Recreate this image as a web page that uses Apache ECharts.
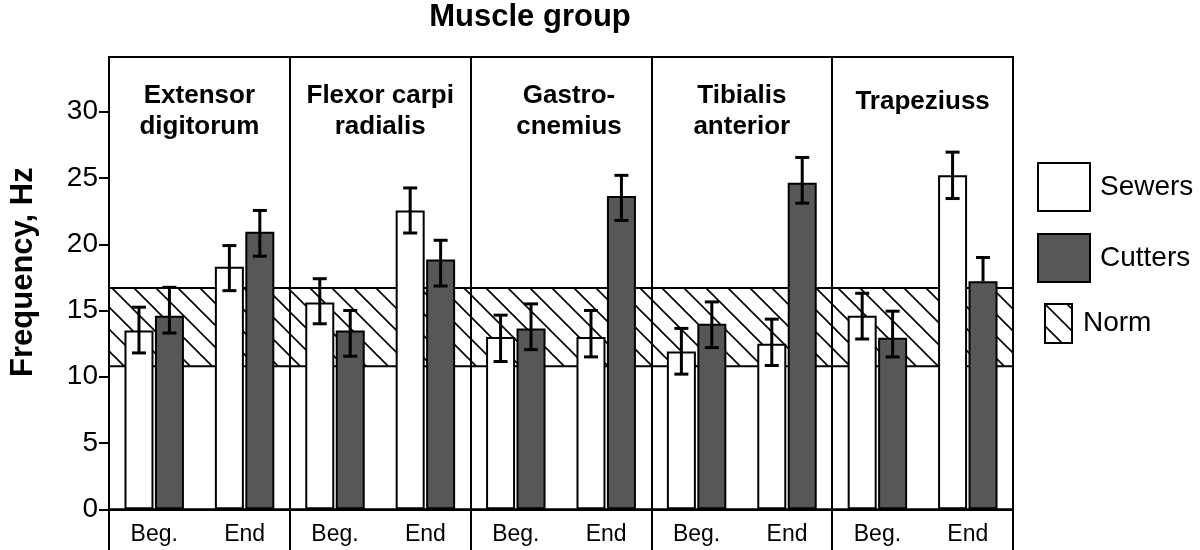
<!DOCTYPE html>
<html><head><meta charset="utf-8">
<script src="https://cdn.jsdelivr.net/npm/echarts@6/dist/echarts.min.js"></script>
<style>html,body{margin:0;padding:0;background:#fff}#c{width:1200px;height:550px}</style>
</head><body><div id="c"></div>
<script>
// ---- data ----
const muscles = ['Extensor\ndigitorum', 'Flexor carpi\nradialis', 'Gastro-\ncnemius', 'Tibialis\nanterior', 'Trapeziuss'];
const phases = ['Beg.', 'End'];
const categories = ['Beg.', 'End', 'Beg.', 'End', 'Beg.', 'End', 'Beg.', 'End', 'Beg.', 'End'];
const sewers      = [13.5, 18.3, 15.6, 22.55, 13.0, 13.0, 11.9, 12.5, 14.6, 25.2];
const sewersLow   = [11.8, 16.5, 14.0, 20.85, 11.15, 11.5, 10.2, 10.85, 12.85, 23.45];
const sewersHigh  = [15.25, 19.9, 17.4, 24.25, 14.65, 15.0, 13.65, 14.35, 16.3, 26.95];
const cutters     = [14.6, 20.95, 13.5, 18.85, 13.65, 23.65, 14.0, 24.65, 12.95, 17.2];
const cuttersLow  = [13.3, 19.1, 11.55, 16.85, 12.05, 21.8, 12.2, 23.1, 11.5, null];
const cuttersHigh = [16.75, 22.55, 15.0, 20.3, 15.5, 25.2, 15.65, 26.55, 14.95, 19.0];
const normRange = [10.8, 16.7];
const yTicks = [0, 5, 10, 15, 20, 25, 30];

// ---- styles ----
const FONT = '"Liberation Sans", Arial, Helvetica, sans-serif';
const DARK = '#575757';
const BAR_W = 29, BAR_GAP = 0.05;
const BLACK_LINE = { color: '#000', width: 2 };

function hatchCanvas() {
  const s = 22;
  const c = document.createElement('canvas');
  c.width = s; c.height = s;
  const g = c.getContext('2d');
  g.strokeStyle = '#000';
  g.lineWidth = 1.6;
  for (const k of [-s, 0, s]) {
    g.beginPath();
    g.moveTo(-2, -2 + k);
    g.lineTo(s + 2, s + 2 + k);
    g.stroke();
  }
  return c;
}
const hatchFill = { image: hatchCanvas(), repeat: 'repeat' };

function errData(vals, lows, highs) {
  return vals.map((v, i) => [i, lows[i] == null ? v : lows[i], highs[i], lows[i] == null ? 0 : 1]);
}
function errRender(sign) {
  return function (params, api) {
    const i = api.value(0);
    const lo = api.value(1), hi = api.value(2), hasLo = api.value(3);
    const pHi = api.coord([i, hi]);
    const pLo = api.coord([i, lo]);
    const cx = pHi[0] + sign * BAR_W * (1 + BAR_GAP) / 2;
    const cap = 7;
    const st = { stroke: '#000', lineWidth: 3 };
    const ch = [
      { type: 'line', shape: { x1: cx, y1: pHi[1], x2: cx, y2: pLo[1] }, style: st },
      { type: 'line', shape: { x1: cx - cap, y1: pHi[1], x2: cx + cap, y2: pHi[1] }, style: st }
    ];
    if (hasLo) ch.push({ type: 'line', shape: { x1: cx - cap, y1: pLo[1], x2: cx + cap, y2: pLo[1] }, style: st });
    return { type: 'group', children: ch };
  };
}

const topLabels = muscles.map((m, i) => {
  if (m === 'Trapeziuss') return { value: m, textStyle: { padding: [6, 0, 0, 0] } };
  if (i === 2) return { value: m, textStyle: { padding: [0, 0, 0, 16] } };
  return m;
});

const chart = echarts.init(document.getElementById('c'), null, { renderer: 'canvas' });
chart.setOption({
  animation: false,
  backgroundColor: '#fff',
  textStyle: { fontFamily: FONT, color: '#000' },
  title: {
    text: 'Muscle group', left: 530, top: 2, textAlign: 'center', padding: 0,
    textStyle: { fontSize: 31, fontWeight: 'bold', color: '#000', fontFamily: FONT }
  },
  legend: [
    { data: ['Sewers'], left: 1037, top: 162, itemWidth: 52, itemHeight: 48, icon: 'rect', padding: 0,
      itemStyle: { borderColor: '#000', borderWidth: 2 },
      textStyle: { fontSize: 28, color: '#000', fontFamily: FONT, padding: [0, 0, 0, 5] } },
    { data: ['Cutters'], left: 1037, top: 233, itemWidth: 52, itemHeight: 48, icon: 'rect', padding: 0,
      itemStyle: { borderColor: '#000', borderWidth: 2 },
      textStyle: { fontSize: 28, color: '#000', fontFamily: FONT, padding: [0, 0, 0, 5] } },
    { data: ['Norm'], left: 1044, top: 303, itemWidth: 27, itemHeight: 39, icon: 'rect', padding: 0,
      itemStyle: { color: hatchFill, borderColor: '#000', borderWidth: 2 },
      textStyle: { fontSize: 28, color: '#000', fontFamily: FONT, padding: [0, 0, 0, 6] } }
  ],
  grid: [
    { left: 109, right: 187, top: 57, bottom: 40.7, show: true, borderColor: '#000', borderWidth: 2, backgroundColor: 'transparent' },
    { left: 109, right: 187, top: 509.3, bottom: 0, show: false }
  ],
  xAxis: [
    { type: 'category', gridIndex: 0, data: categories, position: 'bottom',
      axisLine: { show: true, lineStyle: BLACK_LINE },
      axisTick: { show: false },
      axisLabel: { fontSize: 23, color: '#000', margin: 14, interval: 0, fontFamily: FONT },
      splitLine: { show: false } },
    { type: 'category', gridIndex: 0, data: topLabels, position: 'top',
      axisLine: { show: true, onZero: false, lineStyle: BLACK_LINE },
      axisTick: { show: false },
      axisLabel: { inside: true, margin: 23, interval: 0, fontSize: 26, fontWeight: 'bold', lineHeight: 31, color: '#000', fontFamily: FONT },
      splitLine: { show: true, interval: 0, lineStyle: BLACK_LINE } },
    { type: 'category', gridIndex: 1, data: muscles, position: 'bottom',
      axisLine: { show: false }, axisTick: { show: false }, axisLabel: { show: false },
      splitLine: { show: true, interval: 0, lineStyle: BLACK_LINE } }
  ],
  yAxis: [
    { type: 'value', gridIndex: 0, min: 0, max: 34.13,
      axisLine: { show: true, lineStyle: BLACK_LINE },
      axisTick: { show: true, length: 10, customValues: yTicks, lineStyle: BLACK_LINE },
      axisLabel: { customValues: yTicks, fontSize: 28, color: '#000', margin: 11, fontFamily: FONT },
      splitLine: { show: false },
      name: 'Frequency, Hz', nameLocation: 'middle', nameGap: 70, nameRotate: 90,
      nameTextStyle: { fontSize: 31, fontWeight: 'bold', color: '#000', fontFamily: FONT, padding: [0, 0, 0, 22] } },
    { type: 'value', gridIndex: 1, min: 0, max: 1, position: 'left',
      axisLine: { show: true, lineStyle: BLACK_LINE }, axisTick: { show: false }, axisLabel: { show: false }, splitLine: { show: false } },
    { type: 'value', gridIndex: 1, min: 0, max: 1, position: 'right',
      axisLine: { show: true, lineStyle: BLACK_LINE }, axisTick: { show: false }, axisLabel: { show: false }, splitLine: { show: false } }
  ],
  series: [
    { type: 'line', name: 'Norm', data: [], xAxisIndex: 0, yAxisIndex: 0, z: 1, silent: true,
      itemStyle: { color: hatchFill },
      markArea: { silent: true, itemStyle: { color: hatchFill, borderColor: '#000', borderWidth: 2 },
        data: [[{ yAxis: normRange[0] }, { yAxis: normRange[1] }]] } },
    { type: 'bar', name: 'Sewers', data: sewers, xAxisIndex: 0, yAxisIndex: 0, barWidth: BAR_W, barGap: (BAR_GAP * 100) + '%', z: 2,
      itemStyle: { color: '#fff', borderColor: '#000', borderWidth: 2 } },
    { type: 'bar', name: 'Cutters', data: cutters, xAxisIndex: 0, yAxisIndex: 0, barWidth: BAR_W, barGap: (BAR_GAP * 100) + '%', z: 2,
      itemStyle: { color: DARK, borderColor: '#000', borderWidth: 2 } },
    { type: 'custom', name: 'Sewers err', data: errData(sewers, sewersLow, sewersHigh), xAxisIndex: 0, yAxisIndex: 0, z: 3, silent: true,
      renderItem: errRender(-1), encode: { x: 0, y: [1, 2] } },
    { type: 'custom', name: 'Cutters err', data: errData(cutters, cuttersLow, cuttersHigh), xAxisIndex: 0, yAxisIndex: 0, z: 3, silent: true,
      renderItem: errRender(1), encode: { x: 0, y: [1, 2] } }
  ]
});
</script></body></html>
